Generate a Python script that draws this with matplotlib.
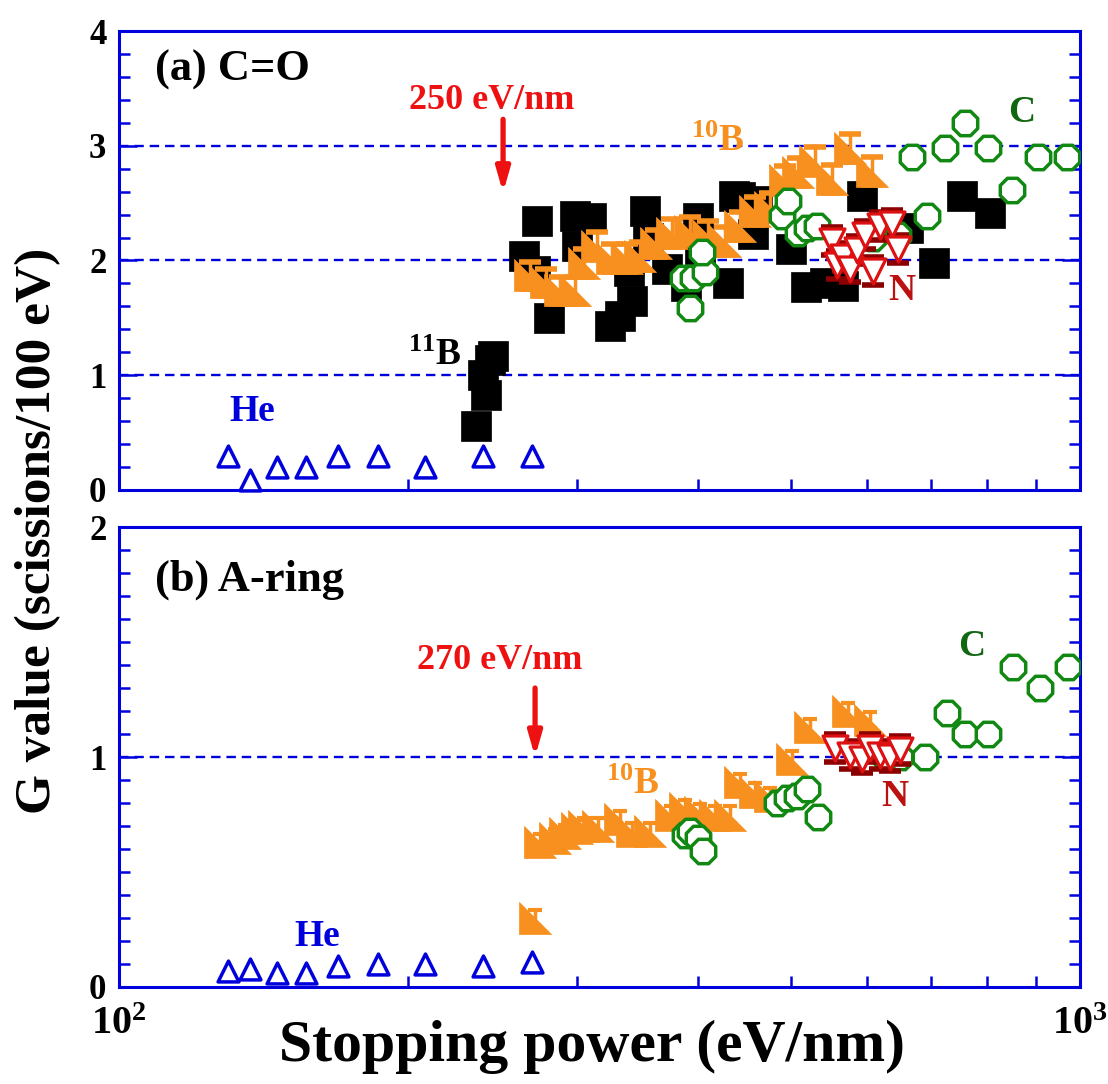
import matplotlib
matplotlib.use("Agg")
import matplotlib.pyplot as plt
from matplotlib.ticker import MultipleLocator, NullFormatter
from matplotlib.path import Path

plt.rcParams['font.family'] = ['Liberation Serif', 'DejaVu Serif']
plt.rcParams['font.weight'] = 'bold'
plt.rcParams['mathtext.fontset'] = 'custom'
plt.rcParams['mathtext.rm'] = 'Liberation Serif:bold'
plt.rcParams['mathtext.bf'] = 'Liberation Serif:bold'
plt.rcParams['mathtext.it'] = 'Liberation Serif:bold:italic'

# ---------------- data: (a) C=O ----------------
he_a_x = [130, 137, 146, 156.5, 169, 186, 208, 239, 269]
he_a_y = [0.30, 0.09, 0.20, 0.20, 0.30, 0.30, 0.20, 0.30, 0.30]

b11_a_x = [235, 241, 239, 243, 245, 264, 271, 272, 280, 298, 300, 310, 324, 332,
           339, 342, 353, 355, 372, 389, 400, 402, 430, 437, 443, 457, 461,
           500, 519, 543, 567, 593, 662, 705, 754, 806]
b11_a_y = [0.56, 0.83, 1.00, 1.13, 1.17, 2.04, 1.91, 2.34, 1.50, 2.39, 2.13, 2.37, 1.43, 1.52,
           1.91, 1.65, 2.43, 2.20, 1.93, 1.78, 2.37, 2.10, 1.80, 2.56, 2.55, 2.23, 2.52,
           2.10, 1.77, 1.80, 1.78, 2.56, 2.28, 1.98, 2.56, 2.41]

b10_a_x = [268, 278, 288, 298, 305, 314.5, 326, 338, 348.5, 362, 376, 393, 410, 427,
           443, 459, 476, 493, 509, 530, 552, 576, 608]
b10_a_y = [1.87, 1.81, 1.74, 1.74, 1.98, 2.13, 2.02, 2.02, 2.04, 2.15, 2.24, 2.26, 2.22, 2.17,
           2.30, 2.43, 2.47, 2.70, 2.77, 2.87, 2.71, 2.98, 2.78]

c_a_x = [386, 393, 396, 407, 404, 490, 497, 509, 520, 532, 609, 647, 669, 693, 724, 759,
         802, 850, 904, 969]
c_a_y = [1.85, 1.59, 1.85, 1.90, 2.07, 2.39, 2.52, 2.24, 2.28, 2.30, 2.20, 2.22, 2.90, 2.39,
         2.98, 3.20, 2.98, 2.61, 2.90, 2.90]

n_a_x = [552, 558.6, 567, 576, 586, 597, 609, 619, 637, 647]
n_a_y = [2.17, 1.96, 2.03, 1.93, 2.09, 2.22, 1.91, 2.30, 2.32, 2.10]

# ---------------- data: (b) A-ring ----------------
he_b_x = [130, 137, 146, 156.5, 169, 186, 208, 239, 269]
he_b_y = [0.07, 0.08, 0.06, 0.06, 0.09, 0.10, 0.10, 0.09, 0.11]

b10_b_x = [271, 274, 284, 291, 300, 305, 315, 332, 342, 357, 375, 388, 402, 417, 432,
           443, 459, 476, 501.5, 524, 574, 605]
b10_b_y = [0.30, 0.63, 0.65, 0.67, 0.69, 0.70, 0.70, 0.73, 0.68, 0.68, 0.75, 0.78, 0.76, 0.75, 0.75,
           0.89, 0.85, 0.83, 0.99, 1.13, 1.20, 1.16]

c_b_x = [388, 393, 400, 405, 484, 496, 508, 520, 534, 627, 650, 690, 727, 759, 802, 852, 908, 972]
c_b_y = [0.66, 0.68, 0.65, 0.59, 0.80, 0.82, 0.83, 0.86, 0.74, 1.00, 1.00, 1.00, 1.19, 1.10,
         1.10, 1.39, 1.30, 1.39]

n_b_x = [556, 576, 593, 605, 619, 634, 650]
n_b_y = [1.04, 1.01, 0.99, 1.04, 1.01, 1.00, 1.03]

# ---------------- styles ----------------
BLUE = '#0000dd'
ORANGE = '#f7901e'
GREEN = '#118811'
RED = '#dd1111'
DARKRED = '#8b0000'
ARROWRED = '#ee1111'

rtri = Path([(-1, 1), (-1, -1), (1, -1), (-1, 1)],
            [Path.MOVETO, Path.LINETO, Path.LINETO, Path.CLOSEPOLY])

fig = plt.figure(figsize=(11.08, 10.84), dpi=100)
ax1 = fig.add_axes([0.1074, 0.548, 0.8673, 0.4234])
ax2 = fig.add_axes([0.1074, 0.0895, 0.8673, 0.4243])


def style_axis(ax, ymax, minor):
    ax.set_xscale('log')
    ax.set_xlim(100, 1000)
    ax.set_ylim(0, ymax)
    ax.yaxis.set_major_locator(MultipleLocator(1))
    ax.yaxis.set_minor_locator(MultipleLocator(minor))
    for s in ax.spines.values():
        s.set_color(BLUE)
        s.set_linewidth(2.2)
    ax.tick_params(which='both', direction='in', color=BLUE, width=1.8,
                   top=False, right=True, labelsize=25, pad=9)
    ax.tick_params(which='major', length=13)
    ax.tick_params(which='minor', length=8)


style_axis(ax1, 4, 0.2)
style_axis(ax2, 2, 0.1)

ax1.set_xticks([100, 1000])
ax1.set_xticklabels(['', ''])
ax1.xaxis.set_minor_formatter(NullFormatter())
ax2.set_xticks([100, 1000])
ax2.set_xticklabels([r'$10^2$', r'$10^3$'], fontsize=29)
ax2.xaxis.set_minor_formatter(NullFormatter())
ax2.tick_params(axis='x', which='major', pad=14)

for y in [1, 2, 3]:
    ax1.axhline(y, color=BLUE, lw=1.7, dashes=(4, 2.5), zorder=1)
ax2.axhline(1, color=BLUE, lw=1.7, dashes=(4, 2.5), zorder=1)

# ---- panel (a) series ----
ax1.errorbar(b11_a_x, b11_a_y, yerr=0.08, fmt='none', ecolor='black', elinewidth=2,
             capsize=7, capthick=3, zorder=2)
ax1.scatter(b11_a_x, b11_a_y, marker='s', s=22**2, c='black', edgecolors='black',
            linewidths=0.5, zorder=3)
ax1.errorbar(b10_a_x, b10_a_y, yerr=0.12, fmt='none', ecolor=ORANGE, elinewidth=2.5,
             capsize=8, capthick=4, zorder=4)
ax1.scatter(b10_a_x, b10_a_y, marker=rtri, s=23**2, c=ORANGE, edgecolors=ORANGE,
            linewidths=0.5, zorder=5)
ax1.scatter(c_a_x, c_a_y, marker='8', s=19**2, facecolors='white', edgecolors=GREEN,
            linewidths=2.5, zorder=6)
ax1.errorbar(n_a_x, n_a_y, yerr=0.12, fmt='none', ecolor=DARKRED, elinewidth=3,
             capsize=8, capthick=4, zorder=7)
ax1.scatter(n_a_x, n_a_y, marker='v', s=18**2, facecolors='white', edgecolors=RED,
            linewidths=2.3, zorder=8)
ax1.scatter(he_a_x, he_a_y, marker='^', s=15**2, facecolors='white', edgecolors=BLUE,
            linewidths=2.5, zorder=9, clip_on=False)

# ---- panel (b) series ----
ax2.errorbar(b10_b_x, b10_b_y, yerr=0.035, fmt='none', ecolor=ORANGE, elinewidth=2.5,
             capsize=5, capthick=3, zorder=4)
ax2.scatter(b10_b_x, b10_b_y, marker=rtri, s=23**2, c=ORANGE, edgecolors=ORANGE,
            linewidths=0.5, zorder=5)
ax2.scatter(c_b_x, c_b_y, marker='8', s=19**2, facecolors='white', edgecolors=GREEN,
            linewidths=2.5, zorder=6)
ax2.errorbar(n_b_x, n_b_y, yerr=0.06, fmt='none', ecolor=DARKRED, elinewidth=3,
             capsize=8, capthick=4, zorder=7)
ax2.scatter(n_b_x, n_b_y, marker='v', s=18**2, facecolors='white', edgecolors=RED,
            linewidths=2.3, zorder=8)
ax2.scatter(he_b_x, he_b_y, marker='^', s=15**2, facecolors='white', edgecolors=BLUE,
            linewidths=2.5, zorder=9, clip_on=False)

# ---- annotations ----
ax1.text(0.037, 0.915, '(a) C=O', transform=ax1.transAxes, fontsize=32,
         fontweight='bold', ha='left', va='center')
ax2.text(0.037, 0.885, '(b) A-ring', transform=ax2.transAxes, fontsize=32,
         fontweight='bold', ha='left', va='center')

ax1.text(244, 3.39, '250 eV/nm', color=ARROWRED, fontsize=26, fontweight='bold',
         ha='center', va='center')
ax1.annotate('', xy=(251, 2.59), xytext=(251, 3.23),
             arrowprops=dict(arrowstyle='-|>,head_width=0.4,head_length=1.4',
                             color=ARROWRED, lw=3.8, shrinkA=0, shrinkB=0))
ax2.text(249, 1.42, '270 eV/nm', color=ARROWRED, fontsize=26, fontweight='bold',
         ha='center', va='center')
ax2.annotate('', xy=(271, 1.0), xytext=(271, 1.30),
             arrowprops=dict(arrowstyle='-|>,head_width=0.4,head_length=1.4',
                             color=ARROWRED, lw=3.8, shrinkA=0, shrinkB=0))

ax1.text(137.5, 0.68, 'He', color=BLUE, fontsize=27, fontweight='bold', ha='center', va='center')
ax2.text(160.7, 0.22, 'He', color=BLUE, fontsize=27, fontweight='bold', ha='center', va='center')
ax1.text(213, 1.17, r'$^{11}$B', color='black', fontsize=27, ha='center', va='center')
ax1.text(420, 3.04, r'$^{10}$B', color=ORANGE, fontsize=27, ha='center', va='center')
ax2.text(342, 0.88, r'$^{10}$B', color=ORANGE, fontsize=27, ha='center', va='center')
ax1.text(870, 3.29, 'C', color='#116611', fontsize=27, fontweight='bold', ha='center', va='center')
ax2.text(772, 1.48, 'C', color='#116611', fontsize=27, fontweight='bold', ha='center', va='center')
ax1.text(653, 1.74, 'N', color='#bb1111', fontsize=27, fontweight='bold', ha='center', va='center')
ax2.text(642, 0.83, 'N', color='#bb1111', fontsize=27, fontweight='bold', ha='center', va='center')

fig.text(0.034, 0.51, 'G value (scissions/100 eV)', rotation=90, fontsize=37,
         fontweight='bold', ha='center', va='center')
fig.text(0.534, 0.034, 'Stopping power (eV/nm)', fontsize=43, fontweight='bold',
         ha='center', va='center')

fig.savefig('out.png', dpi=100)
